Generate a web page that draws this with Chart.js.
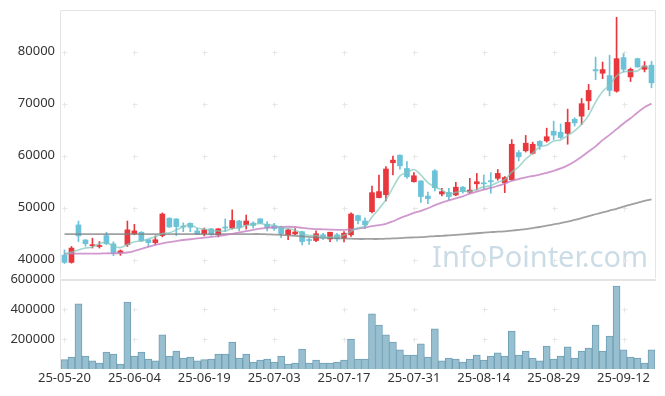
<!DOCTYPE html>
<html><head><meta charset="utf-8">
<script src="https://cdn.jsdelivr.net/npm/chart.js@4.4.1/dist/chart.umd.min.js"></script>
<style>
html,body{margin:0;padding:0;background:#fff;}
#wrap{position:relative;width:665px;height:396px;overflow:hidden;background:#fff;}
#c1{position:absolute;left:0;top:0;}
#c2{position:absolute;left:0;top:265px;}
</style></head><body>
<div id="wrap">
<canvas id="c1" width="665" height="285"></canvas>
<canvas id="c2" width="665" height="131"></canvas>
</div>
<script>
const dates = ['25-05-20','25-05-21','25-05-22','25-05-23','25-05-26','25-05-27','25-05-28','25-05-29','25-05-30','25-06-02',
'25-06-04','25-06-05','25-06-09','25-06-10','25-06-11','25-06-12','25-06-13','25-06-16','25-06-17','25-06-18',
'25-06-19','25-06-20','25-06-23','25-06-24','25-06-25','25-06-26','25-06-27','25-06-30','25-07-01','25-07-02',
'25-07-03','25-07-04','25-07-07','25-07-08','25-07-09','25-07-10','25-07-11','25-07-14','25-07-15','25-07-16',
'25-07-17','25-07-18','25-07-21','25-07-22','25-07-23','25-07-24','25-07-25','25-07-28','25-07-29','25-07-30',
'25-07-31','25-08-01','25-08-04','25-08-05','25-08-06','25-08-07','25-08-08','25-08-11','25-08-12','25-08-13',
'25-08-14','25-08-18','25-08-19','25-08-20','25-08-21','25-08-22','25-08-25','25-08-26','25-08-27','25-08-28',
'25-08-29','25-09-01','25-09-02','25-09-03','25-09-04','25-09-05','25-09-08','25-09-09','25-09-10','25-09-11',
'25-09-12','25-09-15','25-09-16','25-09-17','25-09-18'];
const dateTicks = ['25-05-20','25-06-04','25-06-19','25-07-03','25-07-17','25-07-31','25-08-14','25-08-29','25-09-12'];
const priceTicks = [40000,50000,60000,70000,80000];
const volumeTicks = [200000,400000,600000];

const opens = [40900,39500,46700,43800,42700,42550,44650,43050,41300,42900,
45000,45300,43850,43300,44650,48000,47850,46500,47000,45550,
45000,45950,44800,46250,46100,47450,46700,47050,47850,46850,
46500,46250,44800,44950,45400,43900,43700,44800,44000,44800,
44150,44800,48500,47450,49250,51950,52500,58650,60100,57550,
55000,55150,52250,57100,52650,52950,52450,53950,53000,54600,
54800,55200,55650,54800,55400,60600,60950,60450,62750,62850,
64700,64500,64300,67000,67600,70550,76550,75850,75400,72400,
78850,75150,78650,76600,77400];
const highs = [41900,42550,47450,43900,44150,43500,45300,43450,41900,47450,
46800,45400,43900,44600,49000,48050,47900,47100,47100,46100,
46100,46000,46000,47850,49600,47600,48600,47300,47900,47350,
47000,46500,45900,46000,45500,44100,45550,45100,45300,45100,
45400,49000,48600,48050,54150,56300,57900,59950,60150,58850,
56750,55200,53000,57350,53750,53750,54900,54100,55650,56600,
56300,56750,57350,56000,63100,61000,63900,62600,62900,65300,
66650,66100,68950,67300,71000,73700,78950,78000,79300,86600,
79600,76850,78750,78100,78150];
const lows = [39300,39350,43500,42600,42250,42250,42900,40800,40850,42550,
44800,43500,42550,42900,44400,46250,44650,45400,45400,44850,
44600,44700,44400,45450,45900,45600,45900,46100,47000,45550,
45650,44250,43850,44850,42850,42950,43500,43850,43500,43600,
43450,44500,46900,46000,49000,51900,51300,56300,57400,55650,
54900,51000,50800,53250,52250,51500,52300,52800,52800,53400,
53550,52800,55300,52900,55300,59000,60700,60300,61200,62600,
63100,63300,62200,65700,66000,68850,74600,74800,71500,72200,
76100,74250,77000,76100,73050];
const closes = [39500,42250,44600,43100,42900,42750,43100,41300,41700,45750,
45550,43700,43300,43850,48800,46300,46380,46300,46250,44950,
45750,44800,45950,46100,47550,46200,47450,46600,47050,46200,
46000,45000,45750,45350,43500,43700,45000,44150,45300,44000,
45100,48800,47550,46700,52900,53100,57450,59150,58050,55950,
56150,52150,51750,53850,53100,52150,53950,53100,53400,55000,
54600,55000,56600,55800,62200,59800,62400,62200,61900,63650,
63950,63500,66400,66300,70000,72550,76300,76550,72550,78650,
76600,76600,77050,77250,74000];
const ma5 = [41100,41450,41900,42250,42470,43120,43290,42630,42350,42920,
43480,43600,44000,44430,45040,45190,45730,46330,46810,46040,
45930,45610,45540,45510,46030,46120,46650,46780,46970,46700,
46660,46170,46000,45660,45120,44660,44660,44340,44330,44430,
44710,45470,46150,46430,48210,49810,51540,53860,56130,56740,
57350,56290,54810,53970,53400,52600,52960,53230,53140,53520,
54010,54220,54920,55400,56840,57880,59360,60480,61700,61990,
62820,63040,63880,64760,66030,67750,70310,72340,73590,75320,
76130,76190,76290,77230,76300];
const ma20 = [41200,41200,41200,41200,41200,41200,41250,41250,41300,41400,
41700,42100,42500,42850,43150,43400,43600,43800,43950,44100,
44250,44400,44550,44750,45000,45250,45500,45750,46000,46150,
46250,46300,46350,46300,46150,46000,45900,45850,45800,45750,
45750,45850,46000,46200,46450,46650,46900,47400,48000,48500,
49000,49400,49900,50500,51000,51400,51800,52200,52700,53100,
53500,53800,54200,54650,55150,55500,55850,56100,56350,56700,
57100,57550,58150,58900,59800,60800,61800,63000,64000,65100,
66200,67200,68300,69300,70000];
const ma60 = [44950,44950,44950,44950,44950,44950,44950,44950,44950,44950,
44950,44950,44950,44950,44950,44950,44950,44950,44950,44950,
44950,44950,44950,44950,44950,44950,44950,44950,44950,44900,
44850,44800,44700,44600,44500,44400,44300,44250,44200,44150,
44100,44050,44000,44000,44000,44000,44050,44100,44150,44250,
44300,44350,44450,44550,44600,44700,44800,44900,45000,45100,
45200,45300,45400,45450,45600,45750,45900,46100,46300,46550,
46800,47050,47350,47650,48000,48400,48750,49100,49450,49800,
50200,50600,50950,51300,51600];
const volumes = [62000,80000,435000,86700,55000,40000,113000,100000,33000,446000,
86700,113000,66700,55000,227000,86700,120000,73000,80000,55000,
62000,66700,100000,100000,180000,73000,100000,46700,60000,66700,
46700,86700,33000,40000,133000,40000,60000,40000,40000,46700,
60000,200000,66700,66700,367000,293000,227000,180000,127000,93000,
93000,167000,80000,267000,55000,73000,66700,46700,66700,93000,
60000,86700,107000,86700,253000,93000,120000,73000,55000,153000,
66700,86700,147000,73000,120000,140000,293000,120000,220000,553000,
127000,80000,73000,40000,127000];

const UP = '#e8373d', DOWN = '#6cc2d8';
const candleColors = opens.map((o,i)=> closes[i] >= o ? UP : DOWN);
const FONT = '"Noto Sans", "DejaVu Sans", sans-serif';
const LABEL = '#333333';

function noPad(s){ s.paddingTop = 0; s.paddingBottom = 0; s.paddingLeft = 0; s.paddingRight = 0; }

function drawCrosses(chart, yVals, yId){
  const ctx = chart.ctx, xs = chart.scales.x, ys = chart.scales[yId];
  ctx.save(); ctx.strokeStyle = '#e6e6e6'; ctx.lineWidth = 1;
  dates.forEach((d,i)=>{
    if(!dateTicks.includes(d)) return;
    const x = Math.round(xs.getPixelForValue(i)) + 0.5;
    yVals.forEach(v=>{
      const y = Math.round(ys.getPixelForValue(v)) + 0.5;
      ctx.beginPath(); ctx.moveTo(x-2,y); ctx.lineTo(x+3,y);
      ctx.moveTo(x,y-2); ctx.lineTo(x,y+3); ctx.stroke();
    });
  });
  ctx.restore();
}

const pricePlugin = {
  id:'pricePlugin',
  beforeDatasetsDraw(chart){
    const ctx = chart.ctx, a = chart.chartArea;
    ctx.save();
    ctx.font = '32px ' + FONT;
    const w = ctx.measureText('InfoPointer.com').width;
    const size = 32 * 216 / w;
    ctx.font = size.toFixed(2) + 'px ' + FONT;
    ctx.fillStyle = 'rgba(160,192,210,0.55)';
    ctx.textAlign = 'right'; ctx.textBaseline = 'alphabetic';
    ctx.fillText('InfoPointer.com', 648, 267);
    ctx.restore();
    ctx.save(); ctx.strokeStyle = '#e4e4e4'; ctx.lineWidth = 1;
    ctx.beginPath();
    ctx.moveTo(Math.round(a.left)-0.5, Math.round(a.bottom));
    ctx.lineTo(Math.round(a.left)-0.5, Math.round(a.top)+0.5);
    ctx.lineTo(Math.round(a.right)+0.5, Math.round(a.top)+0.5);
    ctx.lineTo(Math.round(a.right)+0.5, Math.round(a.bottom));
    ctx.stroke(); ctx.restore();
    drawCrosses(chart, priceTicks, 'y');
  }
};

const volPlugin = {
  id:'volPlugin',
  beforeDatasetsDraw(chart){
    const ctx = chart.ctx, a = chart.chartArea;
    ctx.save(); ctx.strokeStyle = '#e4e4e4';
    ctx.lineWidth = 2;
    ctx.beginPath(); ctx.moveTo(a.left-1, a.top+1); ctx.lineTo(a.right+1, a.top+1); ctx.stroke();
    ctx.lineWidth = 1;
    ctx.beginPath(); ctx.moveTo(Math.round(a.left)-0.5, a.top); ctx.lineTo(Math.round(a.left)-0.5, a.bottom); ctx.stroke();
    ctx.restore();
    drawCrosses(chart, volumeTicks.filter(v=>v<600000), 'y');
  }
};

const lineDs = (label, data, color, w) => ({
  type:'line', label, data, borderColor: color, borderWidth: w,
  pointRadius: 0, tension: 0.35, fill: false, order: 0
});

new Chart(document.getElementById('c1'), {
  type:'bar',
  data:{
    labels: dates,
    datasets:[
      lineDs('MA5', ma5, 'rgba(125,198,188,0.7)', 1.6),
      lineDs('MA20', ma20, 'rgba(196,128,194,0.8)', 1.8),
      lineDs('MA60', ma60, 'rgba(128,128,128,0.75)', 1.8),
      { label:'wick', data: lows.map((l,i)=>[l, highs[i]]), backgroundColor: candleColors,
        barThickness: 1, grouped: false, borderWidth: 0, order: 2 },
      { label:'body', data: opens.map((o,i)=>[o, closes[i]]), backgroundColor: candleColors,
        barThickness: 5, grouped: false, borderWidth: 0, minBarLength: 1, order: 1 }
    ]
  },
  options:{
    responsive:false, animation:false,
    layout:{ padding:{ top:10, right:10, bottom:7, left:0 } },
    plugins:{ legend:{display:false}, tooltip:{enabled:false} },
    scales:{
      x:{ display:false, offset:true, grid:{display:false}, afterFit: noPad },
      y:{ min:36500, max:88000,
          afterFit(s){ s.width = 61; noPad(s); },
          afterBuildTicks(s){ s.ticks = priceTicks.map(v=>({value:v})); },
          grid:{ display:false, drawTicks:false }, border:{display:false},
          ticks:{ padding:6, color:LABEL, font:{ family:FONT, size:13 }, callback:v=>String(v) } }
    }
  },
  plugins:[pricePlugin]
});

new Chart(document.getElementById('c2'), {
  type:'bar',
  data:{
    labels: dates,
    datasets:[{ label:'volume', data: volumes, backgroundColor:'#97bfd0', borderColor:'#6f9fb5',
      borderWidth:1, barPercentage:1, categoryPercentage:1 }]
  },
  options:{
    responsive:false, animation:false,
    layout:{ padding:{ top:14, right:10, bottom:0, left:0 } },
    plugins:{ legend:{display:false}, tooltip:{enabled:false} },
    scales:{
      x:{ offset:true, grid:{display:false, drawTicks:false}, border:{display:false},
          afterFit(s){ s.height = 27; noPad(s); },
          ticks:{ autoSkip:false, maxRotation:0, minRotation:0, padding:1, color:LABEL,
                  font:{ family:FONT, size:13 },
                  callback(v, i){ return dateTicks.includes(dates[i]) ? dates[i] : ''; } } },
      y:{ min:0, max:600000,
          afterFit(s){ s.width = 61; noPad(s); },
          afterBuildTicks(s){ s.ticks = volumeTicks.map(v=>({value:v})); },
          grid:{ display:false, drawTicks:false }, border:{display:false},
          ticks:{ padding:6, color:LABEL, font:{ family:FONT, size:13 }, callback:v=>String(v) } }
    }
  },
  plugins:[volPlugin]
});
</script>
</body></html>
